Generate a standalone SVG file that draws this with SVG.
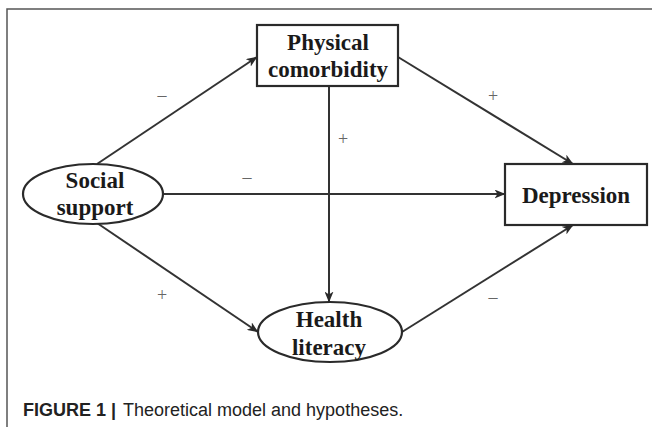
<svg xmlns="http://www.w3.org/2000/svg" width="652" height="427" viewBox="0 0 652 427">
<defs>
<marker id="arr" markerWidth="11" markerHeight="9" refX="10.5" refY="4.5" orient="auto" markerUnits="userSpaceOnUse">
<path d="M0,0 L11,4.5 L0,9 L3,4.5 z" fill="#2a2a2a"/>
</marker>
<style>
.box{fill:#fff;stroke:#2a2a2a;stroke-width:2.2}
.nt{font-family:"Liberation Serif","Times New Roman",serif;font-weight:bold;font-size:23px;fill:#1a1a1a;text-anchor:middle}
.ln{fill:none;stroke:#333;stroke-width:2;marker-end:url(#arr)}
.lb{font-family:"Liberation Serif","Times New Roman",serif;font-size:18px;fill:#666;text-anchor:middle}
.frame{fill:none;stroke:#555;stroke-width:1.5}
.cap{font-family:"Liberation Sans",Arial,sans-serif;font-size:18px;fill:#222}
</style>
</defs>
<rect width="652" height="427" fill="#fff"/>
<path class="frame" d="M7,427 L7,9 L652,9"/>
<g id="connectors">
<line class="ln" x1="97" y1="164" x2="257" y2="57"/>
<line class="ln" x1="398" y1="57" x2="573" y2="164"/>
<line class="ln" x1="163" y1="194" x2="505" y2="194"/>
<line class="ln" x1="97" y1="223" x2="258" y2="332"/>
<line class="ln" x1="329" y1="86" x2="329" y2="302"/>
<line class="ln" x1="402" y1="332" x2="573" y2="225"/>
<text class="lb" x="162" y="101">–</text>
<text class="lb" x="493" y="102">+</text>
<text class="lb" x="343" y="145">+</text>
<text class="lb" x="247" y="183">–</text>
<text class="lb" x="162" y="301">+</text>
<text class="lb" x="493" y="303">–</text>
</g>
<g id="physical">
<rect class="box" x="257" y="25" width="141" height="61"/>
<text class="nt" x="328" y="50">Physical</text>
<text class="nt" x="328" y="77">comorbidity</text>
</g>
<g id="social">
<ellipse class="box" cx="93" cy="194" rx="70" ry="30"/>
<text class="nt" x="95" y="188">Social</text>
<text class="nt" x="95" y="215">support</text>
</g>
<g id="depression">
<rect class="box" x="505" y="164" width="142" height="61"/>
<text class="nt" x="576" y="203">Depression</text>
</g>
<g id="health">
<ellipse class="box" cx="330" cy="332" rx="72" ry="30"/>
<text class="nt" x="329" y="327">Health</text>
<text class="nt" x="329" y="355">literacy</text>
</g>
<g id="caption">
<text class="cap" x="23" y="416"><tspan font-weight="bold">FIGURE 1 |</tspan><tspan x="123">Theoretical model and hypotheses.</tspan></text>
</g>
</svg>
